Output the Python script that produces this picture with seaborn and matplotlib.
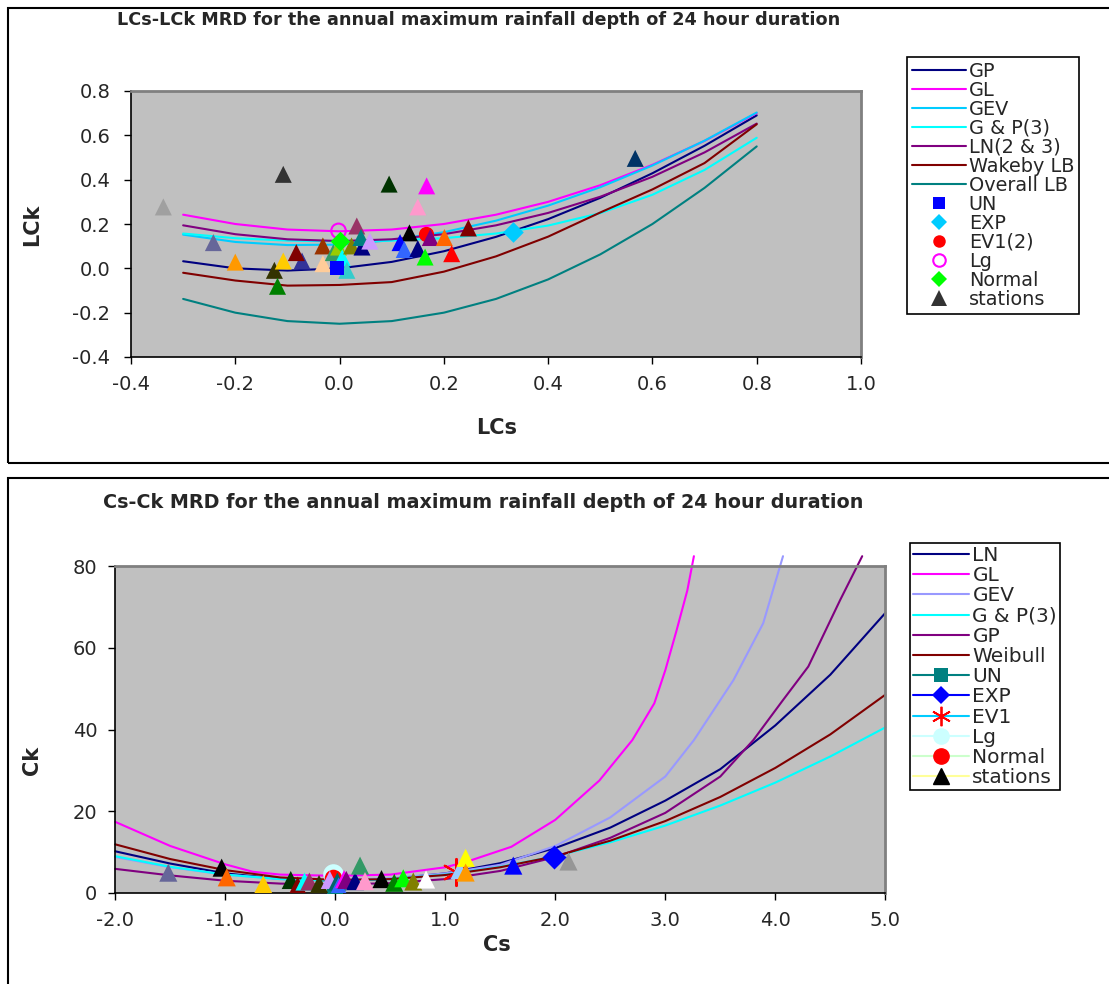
import matplotlib
matplotlib.use("Agg")
import matplotlib.pyplot as plt
import seaborn as sns
from matplotlib.lines import Line2D
from matplotlib.patches import Rectangle

# ---------------- data: top chart (L-moment ratio diagram) ----------------
lcs_grid = [-0.3, -0.2, -0.1, 0.0, 0.1, 0.2, 0.3, 0.4, 0.5, 0.6, 0.7, 0.8]
lck_gp = [0.032, 0.000, -0.010, 0.000, 0.029, 0.077, 0.142, 0.222, 0.318, 0.429, 0.553, 0.690]
lck_gl = [0.242, 0.200, 0.175, 0.167, 0.175, 0.200, 0.242, 0.300, 0.375, 0.467, 0.575, 0.700]
lck_gev = [0.152, 0.119, 0.105, 0.107, 0.127, 0.163, 0.215, 0.283, 0.366, 0.464, 0.576, 0.703]
lck_pe3 = [0.157, 0.136, 0.125, 0.122, 0.125, 0.136, 0.157, 0.193, 0.249, 0.332, 0.444, 0.589]
lck_ln = [0.194, 0.154, 0.131, 0.123, 0.131, 0.154, 0.194, 0.250, 0.323, 0.413, 0.523, 0.653]
lck_wakeby = [-0.020, -0.055, -0.078, -0.075, -0.062, -0.015, 0.054, 0.143, 0.252, 0.356, 0.475, 0.650]
lck_overall = [-0.138, -0.200, -0.238, -0.250, -0.238, -0.200, -0.138, -0.050, 0.063, 0.200, 0.363, 0.550]

top_curve_names = ["GP", "GL", "GEV", "G & P(3)", "LN(2 & 3)", "Wakeby LB", "Overall LB"]
top_curve_colors = ["#000080", "#FF00FF", "#00CCFF", "#00FFFF", "#800080", "#800000", "#008080"]

# theoretical points (LCs, LCk)
top_un = (-0.005, 0.000)
top_exp = (0.333, 0.165)
top_ev1 = (0.165, 0.155)
top_lg = (-0.002, 0.169)
top_normal = (0.000, 0.125)

# stations (LCs, LCk, colour)
top_st_x = [-0.338, -0.108, -0.242, -0.200, -0.125, -0.119, -0.108, -0.072, -0.083, -0.032,
            -0.032, -0.012, -0.002, 0.005, 0.014, 0.023, 0.043, 0.033, 0.041, 0.058,
            0.095, 0.167, 0.150, 0.134, 0.116, 0.124, 0.150, 0.174, 0.164, 0.201,
            0.215, 0.247, 0.567]
top_st_y = [0.277, 0.424, 0.116, 0.028, -0.009, -0.081, 0.033, 0.033, 0.071, 0.101,
            0.021, 0.071, 0.096, 0.048, -0.009, 0.101, 0.096, 0.191, 0.139, 0.123,
            0.380, 0.372, 0.277, 0.160, 0.116, 0.085, 0.089, 0.139, 0.051, 0.139,
            0.066, 0.182, 0.496]
top_st_c = ["#A0A0A0", "#333333", "#666699", "#FF9900", "#333300", "#008000", "#FFCC00", "#333399",
            "#800000", "#993300", "#FFCC99", "#339966", "#99CC00", "#00FFFF", "#33CCCC", "#808000",
            "#000080", "#993366", "#008080", "#CC99FF", "#003300", "#FF00FF", "#FF99CC", "#000000",
            "#0000FF", "#3366FF", "#000080", "#800080", "#00FF00", "#FF6600", "#FF0000", "#800000",
            "#003366"]

# ---------------- data: bottom chart (moment ratio diagram) ----------------
cs_ln = [-2, -1.5, -1, -0.5, 0, 0.5, 1, 1.5, 2, 2.5, 3, 3.5, 4, 4.5, 5]
ck_ln = [10.2, 7.2, 4.8, 3.45, 3.0, 3.45, 4.8, 7.3, 11.0, 16.0, 22.6, 30.3, 41.0, 53.4, 68.5]
cs_gl = [-2, -1.5, -1, -0.75, -0.5, 0, 0.5, 1, 1.2, 1.6, 2, 2.4, 2.7, 2.9, 3.0, 3.1, 3.2, 3.26]
ck_gl = [17.4, 11.5, 7.0, 5.2, 4.5, 4.2, 4.5, 6.3, 7.7, 11.3, 17.9, 27.5, 37.4, 46.4, 54.5, 64.0, 74.0, 82.4]
cs_gev = [-2, -1.5, -1, -0.5, 0, 0.5, 1, 1.5, 2, 2.5, 3.0, 3.26, 3.62, 3.89, 4.07]
ck_gev = [8.8, 6.3, 4.5, 3.4, 3.2, 3.6, 4.8, 6.9, 11.5, 18.5, 28.5, 37.4, 52.1, 66.0, 82.4]
cs_pe3 = [-2, -1.5, -1, -0.5, 0, 0.5, 1, 1.5, 2, 2.5, 3, 3.5, 4, 4.5, 5]
ck_pe3 = [9.0, 6.4, 4.5, 3.4, 3.0, 3.4, 4.5, 6.4, 9.0, 12.4, 16.5, 21.4, 27.0, 33.4, 40.5]
cs_gp = [-2, -1.5, -1, -0.5, 0, 0.5, 1, 1.5, 2, 2.5, 3, 3.5, 3.8, 4.07, 4.3, 4.59, 4.79]
ck_gp = [5.9, 4.3, 3.0, 2.3, 2.1, 2.4, 3.4, 5.4, 8.8, 13.5, 19.6, 28.5, 37.4, 47.2, 55.4, 71.7, 82.4]
cs_wei = [-2, -1.5, -1, -0.5, 0, 0.5, 1, 1.5, 2, 2.5, 3, 3.5, 4, 4.5, 5]
ck_wei = [11.9, 8.3, 5.6, 3.8, 3.2, 3.4, 4.4, 6.3, 9.0, 12.8, 17.6, 23.5, 30.6, 38.8, 48.5]

bot_curve_names = ["LN", "GL", "GEV", "G & P(3)", "GP", "Weibull"]
bot_curve_colors = ["#000080", "#FF00FF", "#9999FF", "#00FFFF", "#800080", "#800000"]

bot_un = (0.0, 1.8)
bot_exp = (1.99, 8.9)
bot_ev1 = (1.10, 5.2)
bot_lg = (-0.02, 4.6)
bot_normal = (-0.02, 3.6)

bot_st_x = [-1.518, -1.033, -0.987, -0.655, -0.405, -0.342, -0.280, -0.236, -0.148, -0.050,
            0.018, 0.030, 0.080, 0.100, 0.180, 0.225, 0.270, 0.420, 0.536, 0.618,
            0.709, 0.825, 1.130, 1.185, 1.185, 1.618, 2.120]
bot_st_y = [4.97, 6.2, 3.83, 2.12, 3.18, 1.80, 2.8, 2.8, 2.2, 3.2,
            2.8, 1.6, 3.4, 3.2, 2.9, 6.7, 2.9, 3.4, 2.5, 3.6,
            2.8, 3.3, 5.6, 8.6, 5.0, 6.7, 7.7]
bot_st_c = ["#666699", "#000000", "#FF6600", "#FFCC00", "#003300", "#800000", "#00FFFF", "#993366",
            "#333300", "#CC99FF", "#006666", "#3366FF", "#FF00FF", "#800080", "#000080", "#339966",
            "#FF99CC", "#000000", "#008000", "#00FF00", "#808000", "#FFFFFF", "#99CCFF", "#FFFF00",
            "#FF9900", "#0000FF", "#969696"]

# ---------------- figure ----------------
sns.set_theme(style="white")
plt.rcParams["font.family"] = ["DejaVu Sans"]

W, H = 1109, 984
fig = plt.figure(figsize=(W / 100, H / 100), dpi=100)
fig.patch.set_facecolor("white")

# panel frames
fig.patches.append(Rectangle((8 / W, 1 - 463 / H), 1.2, (463 - 8) / H, transform=fig.transFigure,
                             fill=False, edgecolor="black", linewidth=1.5))
fig.patches.append(Rectangle((8 / W, -0.1), 1.2, (1 - 478 / H) + 0.1, transform=fig.transFigure,
                             fill=False, edgecolor="black", linewidth=1.5))

ax1 = fig.add_axes([131 / W, 1 - 357 / H, (861 - 131) / W, (357 - 91) / H])
ax2 = fig.add_axes([115.3 / W, 1 - 893 / H, (885.3 - 115.3) / W, (893 - 566) / H])


def style_axes(ax, ypad):
    ax.set_facecolor("#C0C0C0")
    for s in ["left", "bottom"]:
        ax.spines[s].set_color("black")
        ax.spines[s].set_linewidth(1.2)
    for s in ["top", "right"]:
        ax.spines[s].set_color("#808080")
        ax.spines[s].set_linewidth(2)
    ax.tick_params(direction="out", length=5, width=1, color="black", labelsize=14,
                   bottom=True, left=True)
    ax.tick_params(axis="x", pad=8)
    ax.tick_params(axis="y", pad=ypad)
    ax.grid(False)
    ax.set_xlabel("")
    ax.set_ylabel("")


# ---- top chart ----
top_series = [lck_gp, lck_gl, lck_gev, lck_pe3, lck_ln, lck_wakeby, lck_overall]
for vals, col in zip(top_series, top_curve_colors):
    sns.lineplot(x=lcs_grid, y=vals, ax=ax1, color=col, linewidth=1.5, sort=False, estimator=None)

sns.scatterplot(x=top_st_x, y=top_st_y, hue=[str(i) for i in range(len(top_st_x))],
                palette=top_st_c, marker="^", s=150, linewidth=0, ax=ax1, legend=False, zorder=5)
sns.scatterplot(x=[top_un[0]], y=[top_un[1]], marker="s", s=110, color="#0000FF", linewidth=0,
                ax=ax1, zorder=6)
sns.scatterplot(x=[top_exp[0]], y=[top_exp[1]], marker="D", s=110, color="#00CCFF", linewidth=0,
                ax=ax1, zorder=6)
sns.scatterplot(x=[top_ev1[0]], y=[top_ev1[1]], marker="o", s=120, color="#FF0000", linewidth=0,
                ax=ax1, zorder=4)
sns.scatterplot(x=[top_lg[0]], y=[top_lg[1]], marker="o", s=110, facecolor="none",
                edgecolor="#FF00FF", linewidth=1.5, ax=ax1, zorder=6)
sns.scatterplot(x=[top_normal[0]], y=[top_normal[1]], marker="D", s=100, color="#00FF00", linewidth=0,
                ax=ax1, zorder=6)

style_axes(ax1, 10)
ax1.set_xlim(-0.4, 1.0)
ax1.set_ylim(-0.4, 0.8)
ax1.set_xticks([-0.4, -0.2, 0.0, 0.2, 0.4, 0.6, 0.8, 1.0])
ax1.set_xticklabels(["-0.4", "-0.2", "0.0", "0.2", "0.4", "0.6", "0.8", "1.0"])
ax1.set_yticks([-0.4, -0.2, 0.0, 0.2, 0.4, 0.6, 0.8])
ax1.set_yticklabels(["-0.4", "-0.2", "0.0", "0.2", "0.4", "0.6", "0.8"])

top_handles = [Line2D([], [], color=c, lw=1.5) for c in top_curve_colors]
top_handles += [
    Line2D([], [], ls="none", marker="s", ms=9, color="#0000FF", mew=0),
    Line2D([], [], ls="none", marker="D", ms=8, color="#00CCFF", mew=0),
    Line2D([], [], ls="none", marker="o", ms=9, color="#FF0000", mew=0),
    Line2D([], [], ls="none", marker="o", ms=9, mfc="none", mec="#FF00FF", mew=1.5),
    Line2D([], [], ls="none", marker="D", ms=8, color="#00FF00", mew=0),
    Line2D([], [], ls="none", marker="^", ms=11, color="#333333", mew=0),
]
top_labels = top_curve_names + ["UN", "EXP", "EV1(2)", "Lg", "Normal", "stations"]
leg1 = fig.legend(top_handles, top_labels, loc="upper left", bbox_to_anchor=(907 / W, 1 - 57 / H),
                  bbox_transform=fig.transFigure, fontsize=13.9, handlelength=2.8, handletextpad=0.15,
                  labelspacing=0.0, borderpad=0.25, borderaxespad=0, frameon=True, fancybox=False,
                  framealpha=1, edgecolor="black")
leg1.get_frame().set_linewidth(1.2)

# ---- bottom chart ----
bot_series = [(cs_ln, ck_ln), (cs_gl, ck_gl), (cs_gev, ck_gev), (cs_pe3, ck_pe3), (cs_gp, ck_gp),
              (cs_wei, ck_wei)]
for (xs, ys), col in zip(bot_series, bot_curve_colors):
    sns.lineplot(x=xs, y=ys, ax=ax2, color=col, linewidth=1.5, sort=False, estimator=None, clip_on=False)

sns.scatterplot(x=[bot_lg[0]], y=[bot_lg[1]], marker="o", s=220, color="#CCFFFF", linewidth=0,
                ax=ax2, zorder=4)
sns.scatterplot(x=[bot_normal[0]], y=[bot_normal[1]], marker="o", s=160, color="#FF0000", linewidth=0,
                ax=ax2, zorder=4)
sns.scatterplot(x=[bot_un[0]], y=[bot_un[1]], marker="s", s=130, color="#008080", linewidth=0,
                ax=ax2, zorder=4)
sns.scatterplot(x=bot_st_x, y=bot_st_y, hue=[str(i) for i in range(len(bot_st_x))],
                palette=bot_st_c, marker="^", s=170, linewidth=0, ax=ax2, legend=False, zorder=5)
sns.scatterplot(x=[bot_ev1[0]], y=[bot_ev1[1]], marker=(6, 2, 0), s=380, color="#FF0000",
                linewidth=1.5, ax=ax2, zorder=4)
sns.scatterplot(x=[bot_exp[0]], y=[bot_exp[1]], marker="D", s=150, color="#0000FF", linewidth=0,
                ax=ax2, zorder=6)

style_axes(ax2, 8)
ax2.set_xlim(-2.0, 5.0)
ax2.set_ylim(0, 80)
ax2.set_xticks([-2, -1, 0, 1, 2, 3, 4, 5])
ax2.set_xticklabels(["-2.0", "-1.0", "0.0", "1.0", "2.0", "3.0", "4.0", "5.0"])
ax2.set_yticks([0, 20, 40, 60, 80])
ax2.set_yticklabels(["0", "20", "40", "60", "80"])

bot_handles = [Line2D([], [], color=c, lw=1.5) for c in bot_curve_colors]
bot_handles += [
    Line2D([], [], color="#008080", lw=1.5, marker="s", ms=10, mew=0),
    Line2D([], [], color="#0000FF", lw=1.5, marker="D", ms=9, mew=0),
    Line2D([], [], color="#00CCFF", lw=1.5, marker=(6, 2, 0), ms=14, mec="#FF0000", mew=1.3),
    Line2D([], [], color="#CCFFFF", lw=1.5, marker="o", ms=11, mfc="#CCFFFF", mec="#CCFFFF"),
    Line2D([], [], color="#CCFFCC", lw=1.5, marker="o", ms=11, mfc="#FF0000", mec="#FF0000"),
    Line2D([], [], color="#FFFF99", lw=1.5, marker="^", ms=12, mfc="#000000", mec="#000000"),
]
bot_labels = bot_curve_names + ["UN", "EXP", "EV1", "Lg", "Normal", "stations"]
leg2 = fig.legend(bot_handles, bot_labels, loc="upper left", bbox_to_anchor=(910 / W, 1 - 543 / H),
                  bbox_transform=fig.transFigure, fontsize=14.5, handlelength=2.8, handletextpad=0.15,
                  labelspacing=0.06, borderpad=0.15, borderaxespad=0, frameon=True, fancybox=False,
                  framealpha=1, edgecolor="black")
leg2.get_frame().set_linewidth(1.2)

# ---- titles and axis labels ----
fig.text(117 / W, 1 - 20 / H, "LCs-LCk MRD for the annual maximum rainfall depth of 24 hour duration",
         fontsize=12.7, fontweight="bold", ha="left", va="center")
fig.text(103 / W, 1 - 502 / H, "Cs-Ck MRD for the annual maximum rainfall depth of 24 hour duration",
         fontsize=13.8, fontweight="bold", ha="left", va="center")
fig.text(497 / W, 1 - 428 / H, "LCs", fontsize=15, fontweight="bold", ha="center", va="center")
fig.text(32 / W, 1 - 225 / H, "LCk", fontsize=15, fontweight="bold", ha="center", va="center",
         rotation=90)
fig.text(497 / W, 1 - 945 / H, "Cs", fontsize=15, fontweight="bold", ha="center", va="center")
fig.text(32 / W, 1 - 760 / H, "Ck", fontsize=15, fontweight="bold", ha="center", va="center",
         rotation=90)

fig.savefig("out.png", dpi=100, facecolor="white")
